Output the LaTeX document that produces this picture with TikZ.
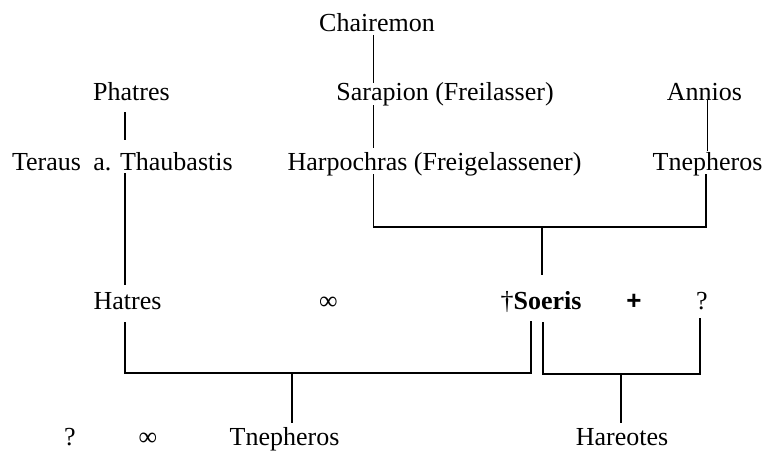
\documentclass[tikz,border=0pt]{standalone}
\usepackage{fontspec}
\setmainfont{Liberation Serif}
\newfontfamily\plusfont{Liberation Sans}
\begin{document}
\begin{tikzpicture}[x=1pt,y=-1pt,
  person/.style={anchor=base,inner sep=0pt,font=\fontsize{26}{30}\selectfont},
  rel/.style={line width=1.6pt}]
\useasboundingbox (0,0) rectangle (765,452);
% names
\node[person] (chairemon) at (377,32) {Chairemon};
\node[person] (phatres) at (131.5,100) {Phatres};
\node[person] (sarapion) at (445,100) {Sarapion (Freilasser)};
\node[person] (annios) at (704.5,100) {Annios};
\node[person] (teraus) at (46.5,170) {Teraus};
\node[person] (thaubastis) at (163,170) {a. Thaubastis};
\node[person] (harpochras) at (434.5,170) {Harpochras (Freigelassener)};
\node[person] (tnepherosA) at (707.5,170) {Tnepheros};
\node[person] (hatres) at (127.5,309) {Hatres};
\node[person] (inf1) at (328.5,309) {∞};
\node[person] (soeris) at (541,309) {†\textbf{Soeris}};
\node[person] (plus) at (634,309) {\plusfont\bfseries +};
\node[person] (q1) at (702,309) {?};
\node[person] (q2) at (70,445) {?};
\node[person] (inf2) at (148,445) {∞};
\node[person] (tnepherosB) at (284.5,445) {Tnepheros};
\node[person] (hareotes) at (622,445) {Hareotes};
% connector points
\coordinate (c1) at (373.5,35);
\coordinate (c2) at (373.5,83);
\coordinate (c3) at (373.5,105);
\coordinate (c4) at (373.5,148);
\coordinate (c5) at (373.5,174);
\coordinate (c6) at (373.5,227);
\coordinate (a1) at (707.5,100);
\coordinate (a2) at (707.5,151);
\coordinate (a3) at (706,174);
\coordinate (a4) at (706,227);
\coordinate (s1) at (542,227);
\coordinate (s2) at (542,275);
\coordinate (p1) at (125,112);
\coordinate (p2) at (125,140);
\coordinate (p3) at (125,173);
\coordinate (p4) at (125,285);
\coordinate (h1) at (125,322);
\coordinate (h2) at (125,373);
\coordinate (l1) at (531,373);
\coordinate (l2) at (531,321);
\coordinate (d1) at (292,373);
\coordinate (d2) at (292,423);
\coordinate (r1) at (543,322);
\coordinate (r2) at (543,374);
\coordinate (r3) at (700,374);
\coordinate (r4) at (700,318);
\coordinate (e1) at (621,374);
\coordinate (e2) at (621,423);
% connectors
\draw[rel] (c1) -- (c2);
\draw[rel] (c3) -- (c4);
\draw[rel] (c5) -- (c6) -- (a4) -- (a3);
\draw[rel] (a1) -- (a2);
\draw[rel] (s1) -- (s2);
\draw[rel] (p1) -- (p2);
\draw[rel] (p3) -- (p4);
\draw[rel] (h1) -- (h2) -- (l1) -- (l2);
\draw[rel] (d1) -- (d2);
\draw[rel] (r1) -- (r2) -- (r3) -- (r4);
\draw[rel] (e1) -- (e2);
\end{tikzpicture}
\end{document}
